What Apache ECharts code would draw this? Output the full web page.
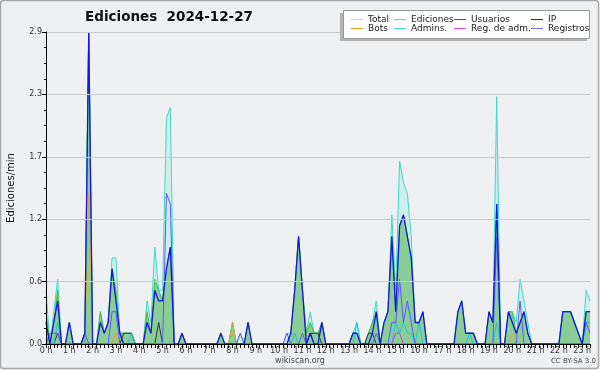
<!DOCTYPE html>
<html><head><meta charset="utf-8">
<script src="https://cdn.jsdelivr.net/npm/echarts@6/dist/echarts.min.js"></script>
<style>html,body{margin:0;padding:0;background:#eff0f2}#c{width:600px;height:370px}</style>
</head><body><div id="c"></div>
<script>
var hourLabels = ['0 h','1 h','2 h','3 h','4 h','5 h','6 h','7 h','8 h','9 h','10 h','11 h','12 h','13 h','14 h','15 h','16 h','17 h','18 h','19 h','20 h','21 h','22 h','23 h'];
var yTicks = [0, 0.58, 1.16, 1.74, 2.32, 2.9];

var total = [
.5,0,.3,.6,0,0,
.2,0,0,0,.1,2.9,
0,0,.3,.1,.2,.8,
.8,.1,.1,.1,.1,0,
0,0,.4,.2,.9,.5,
.5,2.1,2.2,0,0,.1,
0,0,0,0,0,0,
0,0,0,.1,0,0,
.2,0,.1,0,.2,0,
0,0,0,0,0,0,
0,0,.1,.1,.5,1.0,
.5,.1,.3,.1,.1,.2,
0,0,0,0,0,0,
0,.1,.2,0,0,.1,
.2,.4,0,.2,.3,1.2,
.5,1.7,1.5,1.4,1.0,.2,
.2,.3,0,0,0,0,
0,0,0,0,.3,.4,
.1,.1,.1,0,0,0,
.3,.2,2.3,0,0,.3,
.3,.2,.6,.4,.2,0,
0,0,0,0,0,0,
0,.3,.3,.3,.2,.1,
0,.5,.4];

var ediciones = [
.3,0,.2,.5,0,0,
.2,0,0,0,.1,2.9,
0,0,.3,.1,.2,.7,
.5,.1,.1,.1,.1,0,
0,0,.3,.1,.6,.5,
.4,.7,.9,0,0,.1,
0,0,0,0,0,0,
0,0,0,.1,0,0,
.2,0,0,0,.2,0,
0,0,0,0,0,0,
0,0,0,.1,.5,1.0,
.5,.1,.2,.1,.1,.2,
0,0,0,0,0,0,
0,.1,.1,0,0,.1,
.2,.3,0,.2,.3,1.0,
.3,1.1,1.2,1.0,.8,.2,
.2,.3,0,0,0,0,
0,0,0,0,.3,.4,
.1,.1,.1,0,0,0,
.3,.2,1.3,0,0,.3,
.3,.1,.2,.3,.1,0,
0,0,0,0,0,0,
0,.3,.3,.3,.2,.1,
0,.3,.3];

var usuarios = [
.2,0,.2,.4,0,0,
.2,0,0,0,.1,2.9,
0,0,.2,.1,.2,.7,
.4,.1,0,0,0,0,
0,0,.2,.1,.5,.4,
.4,.7,.9,0,0,.1,
0,0,0,0,0,0,
0,0,0,.1,0,0,
0,0,0,0,.2,0,
0,0,0,0,0,0,
0,0,0,.1,.5,1.0,
.5,0,.1,0,0,.2,
0,0,0,0,0,0,
0,.1,.1,0,0,0,
.1,.3,0,.2,.3,1.0,
.3,1.1,1.2,1.0,.8,.2,
.2,.3,0,0,0,0,
0,0,0,0,.3,.4,
.1,.1,.1,0,0,0,
.3,.2,1.3,0,0,.3,
.2,.1,.2,.3,.1,0,
0,0,0,0,0,0,
0,.3,.3,.3,.2,.1,
0,.3,.3];

var ip = [
0,0,0,.1,0,0,
0,0,0,0,0,0,
0,0,0,0,0,0,
0,0,.1,.1,.1,0,
0,0,0,0,0,.2,
0,0,0,0,0,0,
0,0,0,0,0,0,
0,0,0,0,0,0,
0,0,0,0,0,0,
0,0,0,0,0,0,
0,0,0,0,0,0,
0,0,.1,.1,.1,0,
0,0,0,0,0,0,
0,0,0,0,0,.1,
.1,0,0,0,0,0,
0,0,0,0,0,0,
0,0,0,0,0,0,
0,0,0,0,0,0,
0,0,0,0,0,0,
0,0,0,0,0,0,
0,0,0,0,0,0,
0,0,0,0,0,0,
0,0,0,0,0,0,
0,0,0];

var bots = [
0,0,0,0,0,0,
0,0,0,0,0,1.4,
0,0,0,0,0,0,
.1,0,0,0,0,0,
0,0,0,0,0,0,
0,0,0,0,0,0,
0,0,0,0,0,0,
0,0,0,0,0,0,
.2,0,0,0,0,0,
0,0,0,0,0,0,
0,0,0,0,0,0,
0,0,0,0,0,0,
0,0,0,0,0,0,
0,0,0,0,0,0,
0,0,0,0,0,0,
0,0,0,0,0,0,
0,0,0,0,0,0,
0,0,0,0,0,0,
0,0,0,0,0,0,
0,0,0,0,0,0,
.1,0,0,0,0,0,
0,0,0,0,0,0,
0,0,0,0,0,0,
0,0,0];

var admins = [
0,0,0,.2,0,0,
0,0,0,0,0,2.9,
0,0,0,0,0,0,
0,0,0,0,.1,0,
0,0,0,0,0,0,
0,0,0,0,0,0,
0,0,0,0,0,0,
0,0,0,0,0,0,
0,0,0,0,0,0,
0,0,0,0,0,0,
0,0,0,0,.1,0,
0,0,0,0,0,.2,
0,0,0,0,0,0,
0,0,.2,0,0,0,
0,0,0,0,0,0,
.2,.1,.2,.1,.1,0,
.2,0,0,0,0,0,
0,0,0,0,0,0,
0,.1,0,0,0,0,
0,0,.2,0,0,0,
0,0,0,0,0,0,
0,0,0,0,0,0,
0,.3,.3,.3,.2,.1,
0,.2,.2];

var regAdm = [
0,0,0,0,0,0,
0,0,0,0,0,0,
0,0,0,0,0,0,
0,0,0,0,0,0,
0,0,0,0,0,0,
0,0,0,0,0,0,
0,0,0,0,0,0,
0,0,0,0,0,0,
0,0,0,0,0,0,
0,0,0,0,0,0,
0,0,0,0,0,0,
0,0,0,0,0,0,
0,0,0,0,0,0,
0,0,0,0,0,0,
0,0,0,0,0,0,
.1,.1,0,0,0,0,
0,0,0,0,0,0,
0,0,0,0,0,0,
0,0,0,0,0,0,
0,0,0,0,0,0,
0,0,0,0,0,0,
0,0,0,0,0,0,
0,0,0,0,0,0,
0,0,0];

var registros = [
0,.1,.1,.1,0,0,
0,0,0,0,.1,0,
0,0,0,0,0,.3,
.3,0,0,0,0,0,
0,0,0,0,0,0,
0,1.4,1.3,0,0,0,
0,0,0,0,0,0,
0,0,0,0,0,0,
0,0,.1,0,0,0,
0,0,0,0,0,0,
0,0,.1,0,0,0,
.1,0,.1,0,0,0,
0,0,0,0,0,0,
0,0,0,0,0,0,
0,.1,0,0,0,.2,
.2,.6,.2,.4,.2,0,
0,0,0,0,0,0,
0,0,0,0,0,0,
0,0,0,0,0,0,
0,0,1.0,0,0,0,
0,0,.4,0,0,0,
0,0,0,0,0,0,
0,0,0,0,0,0,
0,.2,.1];

var cats = [];
for (var i = 0; i < total.length; i++) { cats.push(String(i)); }

var FONT = 'DejaVu Sans';
function ln(name, data, color, width, z) {
  return { name: name, type: 'line', data: data, symbol: 'none', z: z || 3,
    lineStyle: { color: color, width: width || 1 }, itemStyle: { color: color }, animation: false };
}
var sTotal = ln('Total', total, '#3fd9c9', 1, 2);
sTotal.areaStyle = { color: '#a6ece5', opacity: 0.45 };
var sEd = ln('Ediciones', ediciones, '#44bb44', 1, 2);
sEd.areaStyle = { color: '#5fb85f', opacity: 0.6 };

var chart = echarts.init(document.getElementById('c'), null, { renderer: 'canvas' });
function leg(left, names, colors) {
  return { orient: 'vertical', left: left, top: 10, itemWidth: 12, itemHeight: 8, itemGap: 0, z: 60,
    icon: 'path://M0,4L12,4L12,5L0,5Z', selectedMode: false,
    textStyle: { fontFamily: FONT, fontSize: 9, color: '#222' },
    data: names.map(function (n, k) { return { name: n, itemStyle: { color: colors[k] } }; }) };
}
chart.setOption({
  backgroundColor: '#eff0f2',
  animation: false,
  textStyle: { fontFamily: FONT },
  grid: { left: 46, right: 10, top: 32, bottom: 26, outerBoundsMode: 'none', containLabel: false },
  graphic: [
    { type: 'rect', shape: { x: 0.5, y: 0.5, width: 598, height: 368, r: 3 }, style: { fill: 'none', stroke: '#a8a8a8', lineWidth: 1.5 }, z: 100 },
    { type: 'text', left: 85, top: 10, style: { text: 'Ediciones  2024-12-27', font: 'bold 13.5px "DejaVu Sans"', fill: '#111' } },
    { type: 'rect', shape: { x: 340, y: 13, width: 247, height: 28 }, style: { fill: '#b4b4b4' }, z: 50 },
    { type: 'rect', shape: { x: 343.5, y: 10.5, width: 246, height: 28 }, style: { fill: '#ffffff', stroke: '#9a9a9a', lineWidth: 1 }, z: 51 },
    { type: 'text', left: 'center', top: 357, style: { text: 'wikiscan.org', font: '8px "DejaVu Sans"', fill: '#444' } },
    { type: 'text', right: 4, top: 358, style: { text: 'CC BY-SA 3.0', font: '7px "DejaVu Sans"', fill: '#444' } }
  ],
  legend: [
    leg(346, ['Total', 'Bots'], ['#a6e8e6', '#f5a030']),
    leg(389, ['Ediciones', 'Admins.'], ['#80cc80', '#40cfe0']),
    leg(449, ['Usuarios', 'Reg. de adm.'], ['#3a3aee', '#dd44ee']),
    leg(526, ['IP', 'Registros'], ['#333333', '#7272ff'])
  ],
  xAxis: {
    type: 'category', data: cats, boundaryGap: false, z: 10,
    axisLine: { lineStyle: { color: '#000', width: 1 } },
    axisTick: { interval: 0, length: 4, lineStyle: { color: '#000' } },
    axisLabel: { interval: function (idx) { return idx % 6 === 0; },
      formatter: function (v, idx) { return hourLabels[idx / 6] || ''; },
      fontFamily: FONT, fontSize: 8, color: '#333', margin: 3 },
    splitLine: { show: false }
  },
  yAxis: {
    type: 'value', min: yTicks[0], max: yTicks[yTicks.length - 1], interval: yTicks[1], z: 10,
    name: 'Ediciones/min', nameLocation: 'middle', nameGap: 30, nameRotate: 90,
    nameTextStyle: { fontFamily: FONT, fontSize: 10, color: '#111' },
    axisLine: { show: true, lineStyle: { color: '#000', width: 1 } },
    axisTick: { show: true, length: 4, lineStyle: { color: '#000' } },
    minorTick: { show: true, splitNumber: 4, length: 2, lineStyle: { color: '#000' } },
    axisLabel: { formatter: function (v) { return v.toFixed(1); }, fontFamily: FONT, fontSize: 8, color: '#333', margin: 4 },
    splitLine: { show: true, lineStyle: { color: '#cacaca', width: 1 } }
  },
  series: [
    sTotal, sEd,
    ln('Usuarios', usuarios, '#1616d8', 1.3, 4),
    ln('IP', ip, '#333333', 1, 3),
    ln('Bots', bots, '#f0a030', 1, 3),
    ln('Admins.', admins, '#22c2e0', 1, 3),
    ln('Reg. de adm.', regAdm, '#d040ee', 1, 3),
    ln('Registros', registros, '#5a5aff', 1, 3)
  ]
});
</script></body></html>
